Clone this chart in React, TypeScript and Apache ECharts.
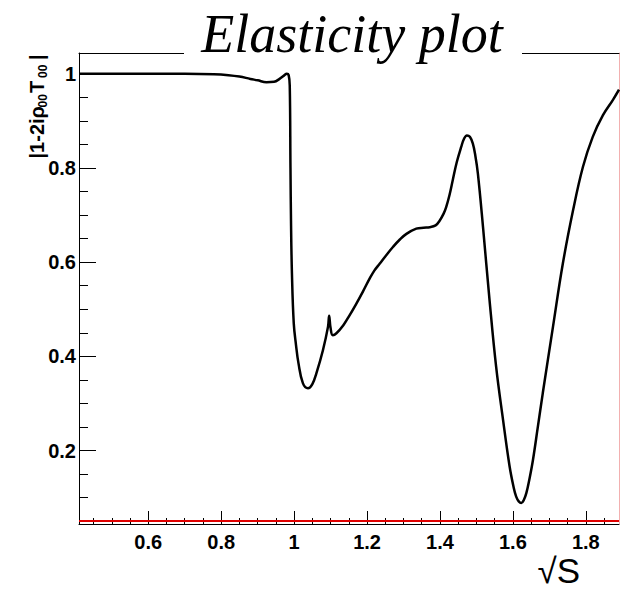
import React, { useEffect, useRef } from 'react';
import * as echarts from 'echarts';

// ---- data ----
const sqrtS = [
  0.41, 0.5, 0.6, 0.7, 0.78, 0.82, 0.85, 0.88, 0.90, 0.924,
  0.945, 0.96, 0.972, 0.98, 0.985, 0.988, 0.990, 0.9915, 0.994, 0.999,
  1.005, 1.012, 1.024, 1.038, 1.050, 1.061, 1.079, 1.093, 1.096, 1.100,
  1.106, 1.116, 1.135, 1.152, 1.17, 1.189, 1.207, 1.22, 1.235, 1.25,
  1.271, 1.29, 1.308, 1.335, 1.355, 1.372, 1.388, 1.399, 1.41, 1.417,
  1.426, 1.435, 1.446, 1.458, 1.466, 1.474, 1.482, 1.490, 1.497, 1.504,
  1.518, 1.536, 1.554, 1.573, 1.591, 1.602, 1.609, 1.616, 1.623, 1.630,
  1.637, 1.645, 1.655, 1.668, 1.682, 1.710, 1.737, 1.765, 1.792, 1.819,
  1.847, 1.874, 1.891,
];
const modulus = [
  1.0, 1.0, 1.0, 1.0, 0.999, 0.997, 0.994, 0.989, 0.986, 0.982,
  0.983, 0.989, 0.996, 1.0, 0.997, 0.975, 0.80, 0.683, 0.576, 0.47,
  0.425, 0.385, 0.343, 0.332, 0.341, 0.364, 0.413, 0.463, 0.486, 0.46,
  0.445, 0.449, 0.466, 0.487, 0.511, 0.538, 0.565, 0.582, 0.597, 0.612,
  0.632, 0.648, 0.660, 0.671, 0.673, 0.674, 0.678, 0.688, 0.703, 0.717,
  0.742, 0.774, 0.812, 0.844, 0.862, 0.869, 0.866, 0.852, 0.826, 0.788,
  0.675, 0.519, 0.378, 0.265, 0.166, 0.122, 0.102, 0.092, 0.0885, 0.095,
  0.110, 0.138, 0.180, 0.248, 0.322, 0.463, 0.597, 0.710, 0.802, 0.866,
  0.912, 0.944, 0.966,
];
const xMajorTicks = [0.6, 0.8, 1, 1.2, 1.4, 1.6, 1.8];
const xMinorTicks = [
  0.45, 0.5, 0.55, 0.65, 0.7, 0.75, 0.85, 0.9, 0.95, 1.05, 1.1, 1.15,
  1.25, 1.3, 1.35, 1.45, 1.5, 1.55, 1.65, 1.7, 1.75, 1.85,
];
const yMajorTicks = [0.2, 0.4, 0.6, 0.8, 1];
const yMinorTicks = [
  0.05, 0.1, 0.15, 0.25, 0.3, 0.35, 0.45, 0.5, 0.55, 0.65, 0.7, 0.75, 0.85, 0.9, 0.95,
];
const X_MIN = 0.41;
const X_MAX = 1.891;
const Y_MIN = 0.044;
const Y_MAX = 1.044;
const TITLE = 'Elasticity plot';
const X_TITLE = '√S';

const LABEL_FONT = {
  fontFamily: 'Liberation Sans',
  fontWeight: 'bold' as const,
  fontSize: 20,
  color: '#000',
};
const fmt = (v: number) => String(parseFloat(Number(v).toFixed(3)));

function buildOption() {
  const data = sqrtS.map((x, i) => [x, modulus[i]]);
  const noSplit = { show: false };
  const mainFont = 'bold 20px "Liberation Sans"';
  const subFont = 'bold 12px "Liberation Sans"';
  const rot = Math.PI / 2;
  return {
    animation: false,
    grid: { left: 79, top: 53, right: 1, bottom: 66, containLabel: false },
    xAxis: [
      {
        type: 'value', min: X_MIN, max: X_MAX, position: 'bottom',
        axisLine: { show: true, onZero: false, lineStyle: { color: '#000', width: 1 } },
        axisTick: { show: true, inside: true, length: 13, customValues: xMajorTicks, lineStyle: { color: '#000', width: 1 } },
        axisLabel: { show: true, customValues: xMajorTicks, formatter: fmt, margin: 8, ...LABEL_FONT },
        splitLine: noSplit,
      },
      {
        type: 'value', min: X_MIN, max: X_MAX, position: 'bottom',
        axisLine: { show: false },
        axisTick: { show: true, inside: true, length: 6, customValues: xMinorTicks, lineStyle: { color: '#000', width: 1 } },
        axisLabel: { show: false },
        splitLine: noSplit,
      },
      {
        type: 'value', min: X_MIN, max: X_MAX, position: 'top',
        axisLine: { show: true, onZero: false, lineStyle: { color: '#000', width: 1 } },
        axisTick: { show: false }, axisLabel: { show: false }, splitLine: noSplit,
      },
    ],
    yAxis: [
      {
        type: 'value', min: Y_MIN, max: Y_MAX, position: 'left',
        axisLine: { show: true, onZero: false, lineStyle: { color: '#000', width: 1 } },
        axisTick: { show: true, inside: true, length: 17, customValues: yMajorTicks, lineStyle: { color: '#000', width: 1 } },
        axisLabel: { show: true, customValues: yMajorTicks, formatter: fmt, margin: 3, ...LABEL_FONT },
        splitLine: noSplit,
      },
      {
        type: 'value', min: Y_MIN, max: Y_MAX, position: 'left',
        axisLine: { show: false },
        axisTick: { show: true, inside: true, length: 9, customValues: yMinorTicks, lineStyle: { color: '#000', width: 1 } },
        axisLabel: { show: false },
        splitLine: noSplit,
      },
      {
        type: 'value', min: Y_MIN, max: Y_MAX, position: 'right',
        axisLine: { show: true, onZero: false, lineStyle: { color: '#f2b0b0', width: 1 } },
        axisTick: { show: false }, axisLabel: { show: false }, splitLine: noSplit,
      },
    ],
    series: [
      {
        type: 'line',
        xAxisIndex: 0,
        yAxisIndex: 0,
        data,
        showSymbol: false,
        symbol: 'none',
        smooth: 0.4,
        lineStyle: { color: '#000', width: 2.5 },
        z: 5,
        markLine: {
          silent: true,
          symbol: 'none',
          label: { show: false },
          lineStyle: { color: '#e00000', width: 2, type: 'solid' },
          data: [{ yAxis: Y_MIN + 0.0015 }],
        },
      },
    ],
    graphic: [
      {
        type: 'rect', z: 100,
        shape: { x: 184, y: 40, width: 338, height: 20 },
        style: { fill: '#fff' },
      },
      {
        type: 'text', z: 101, x: 352, y: 34,
        style: {
          text: TITLE, font: 'italic 54px "Liberation Serif"', fill: '#000',
          textAlign: 'center', textVerticalAlign: 'middle',
        },
      },
      {
        type: 'text', z: 101, x: 580, y: 570,
        style: {
          text: X_TITLE, font: '35px "Liberation Sans"', fill: '#000',
          textAlign: 'right', textVerticalAlign: 'middle',
        },
      },
      { type: 'text', z: 101, x: 37, y: 158.5, rotation: rot, style: { text: '|1-2iρ', font: mainFont, fill: '#000', textAlign: 'left', textVerticalAlign: 'middle' } },
      { type: 'text', z: 101, x: 43, y: 107.5, rotation: rot, style: { text: '00', font: subFont, fill: '#000', textAlign: 'left', textVerticalAlign: 'middle' } },
      { type: 'text', z: 101, x: 37, y: 93, rotation: rot, style: { text: 'T', font: mainFont, fill: '#000', textAlign: 'left', textVerticalAlign: 'middle' } },
      { type: 'text', z: 101, x: 43, y: 78, rotation: rot, style: { text: '00', font: subFont, fill: '#000', textAlign: 'left', textVerticalAlign: 'middle' } },
      { type: 'text', z: 101, x: 37, y: 60, rotation: rot, style: { text: '|', font: mainFont, fill: '#000', textAlign: 'left', textVerticalAlign: 'middle' } },
    ],
  };
}

export default function App() {
  const ref = useRef<HTMLDivElement>(null);
  useEffect(() => {
    if (!ref.current) return;
    const chart = echarts.init(ref.current, null, { renderer: 'svg' });
    chart.setOption(buildOption() as any);
    return () => chart.dispose();
  }, []);
  return (
    <div
      ref={ref}
      style={{ position: 'fixed', left: 0, top: 0, width: 620, height: 590, background: '#fff' }}
    />
  );
}
